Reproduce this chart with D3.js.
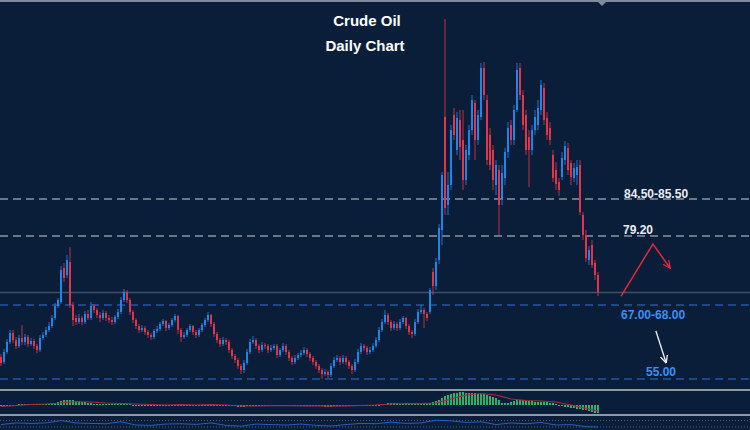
<!DOCTYPE html>
<html>
<head>
<meta charset="utf-8">
<script src="https://cdn.jsdelivr.net/npm/d3@7/dist/d3.min.js"></script>
<style>
  html, body { margin: 0; padding: 0; background: #0a1e3a; }
  svg { display: block; }
  text { font-family: "Liberation Sans", Arial, sans-serif; font-weight: bold; }
</style>
</head>
<body>
<div id="chart"></div>
<script>
// daily candles, oldest first (price)
var opens = [
  58.7,57.8,59.5,61.2,62.7,61.5,60.5,61.8,61.2,62.0,
  60.8,61.3,60.5,59.8,61.8,62.3,63.2,63.8,65.2,67.2,
  67.8,73.5,72.3,74.5,67.3,65.2,64.5,65.2,64.5,65.8,
  65.2,67.2,66.5,65.7,65.2,66.0,65.2,64.8,64.5,65.3,
  66.2,68.2,69.5,68.2,66.2,64.8,63.8,63.2,63.5,62.8,
  62.3,62.0,63.0,63.3,64.2,64.7,63.5,64.0,64.8,65.5,
  63.2,62.0,62.3,63.2,63.8,62.8,62.3,63.2,64.0,64.8,
  65.7,64.2,62.5,61.5,60.8,61.5,61.2,59.8,58.8,58.2,
  57.2,56.5,57.7,59.5,61.2,61.5,60.5,59.8,60.7,60.5,
  59.8,60.2,60.5,59.0,59.8,60.5,59.5,58.5,57.8,58.5,
  59.0,59.3,59.8,59.2,58.5,57.8,57.2,56.5,55.8,56.2,
  55.7,57.2,58.2,58.5,57.8,58.5,57.8,57.2,56.5,57.8,
  59.5,60.5,60.2,59.5,59.8,60.5,61.5,63.2,64.5,65.7,
  64.5,63.5,64.2,63.5,64.5,65.2,63.8,62.8,62.5,64.5,
  66.2,66.5,65.8,66.2,72.8,70.5,74.8,79.8,98.7,84.0,
  87.3,99.0,93.2,98.2,94.8,88.2,92.3,96.5,101.0,94.8,
  98.7,106.8,101.5,95.7,93.2,87.3,89.8,84.8,88.5,92.8,
  97.3,94.8,99.8,106.8,102.3,99.0,95.3,93.2,96.5,97.3,
  99.8,103.5,98.5,96.8,92.3,89.8,87.8,88.7,91.5,93.5,
  91.0,88.5,89.0,90.7,82.3,79.0,74.8,77.3,74.3,72.3
];
var highs = [
  59.2,60.0,61.7,63.2,63.2,62.0,62.3,64.0,62.5,62.3,
  61.8,61.7,60.8,62.3,62.8,63.7,64.5,65.7,67.7,68.5,
  73.8,74.3,75.7,77.0,67.8,65.7,65.8,65.5,66.3,66.5,
  67.8,67.5,66.8,66.2,66.5,66.3,65.7,65.3,65.7,66.7,
  68.7,70.0,69.8,68.5,66.5,65.2,64.2,64.0,63.8,63.2,
  62.7,63.3,63.8,64.5,65.0,64.8,64.3,65.2,65.8,65.7,
  63.5,62.8,63.5,64.2,64.0,63.2,63.5,64.3,65.2,66.2,
  65.8,64.5,62.8,61.8,62.0,61.8,61.5,60.2,59.2,58.5,
  57.5,58.2,60.0,61.7,62.2,61.8,60.8,61.2,61.0,60.8,
  60.7,60.8,60.8,60.2,61.0,60.8,59.8,58.8,59.0,59.3,
  59.8,60.3,60.2,59.5,58.8,58.2,57.5,56.8,56.7,56.5,
  57.7,58.7,59.0,58.8,59.0,58.8,58.2,57.5,58.3,60.0,
  61.0,60.8,60.5,60.3,61.0,62.0,63.7,65.0,66.5,66.0,
  64.8,64.7,64.5,65.0,65.5,65.3,64.2,63.2,65.0,66.7,
  67.3,66.8,66.2,70.2,73.5,75.2,80.8,89.5,115.0,89.5,
  97.3,100.2,99.5,99.8,99.8,94.0,97.3,102.3,101.5,99.8,
  107.7,107.8,102.3,96.8,94.0,91.5,90.7,90.7,93.5,97.8,
  98.2,100.7,107.7,107.7,103.2,99.8,96.5,97.3,99.8,101.5,
  104.8,104.3,99.5,97.8,93.2,91.2,88.5,92.8,94.7,94.3,
  91.5,91.0,91.5,91.5,82.8,79.8,77.2,78.2,74.8,72.8
];
var lows = [
  57.2,57.5,59.2,60.8,61.0,60.0,60.2,60.7,60.7,60.3,
  60.5,60.0,59.3,59.5,61.5,62.0,62.8,63.5,64.8,66.8,
  67.5,71.2,71.8,66.8,63.8,64.0,64.2,64.0,64.2,64.8,
  64.8,66.0,65.2,64.5,64.8,64.7,64.3,64.0,64.2,65.0,
  65.8,67.8,67.7,65.7,64.3,63.3,62.7,62.8,62.3,61.8,
  61.5,61.7,62.7,63.0,63.8,63.0,63.2,63.7,64.5,62.5,
  61.2,61.7,62.0,62.8,62.3,61.8,62.0,62.8,63.7,64.5,
  63.7,62.0,61.0,60.3,60.5,60.7,59.3,58.3,57.7,56.7,
  55.8,56.0,57.3,59.2,60.8,60.0,59.3,59.5,60.0,59.3,
  59.5,59.8,58.5,58.7,59.5,59.0,58.0,57.3,57.5,58.2,
  58.7,59.0,58.7,58.0,57.3,56.7,56.0,55.0,55.5,55.2,
  55.3,56.8,57.8,57.3,57.5,57.3,56.7,55.8,56.2,57.5,
  59.2,59.7,59.0,59.2,59.5,60.2,61.2,62.8,64.2,64.0,
  63.0,63.2,63.0,63.2,64.2,63.3,62.3,61.8,62.2,64.2,
  65.8,63.5,64.7,65.8,69.0,69.8,74.2,77.3,82.3,82.3,
  86.5,94.8,92.3,91.5,86.5,87.3,91.5,95.7,91.5,94.0,
  98.2,101.5,90.7,89.8,86.5,85.7,79.0,84.0,87.3,91.8,
  94.0,94.0,99.5,101.5,96.5,92.3,87.0,92.3,95.7,96.5,
  99.0,97.3,94.8,94.0,87.8,86.5,85.5,88.2,90.7,89.0,
  87.3,87.8,87.3,82.3,78.2,74.5,74.0,73.5,71.5,68.8
];
var closes = [
  57.7,59.5,61.2,62.7,61.5,60.5,61.8,61.2,62.0,60.8,
  61.3,60.5,59.8,61.8,62.3,63.2,63.8,65.2,67.2,68.2,
  73.2,71.8,74.8,67.3,64.8,64.5,65.2,64.5,65.8,65.2,
  67.2,66.5,65.7,65.2,66.0,65.2,64.8,64.5,65.3,66.2,
  68.2,69.5,68.2,66.2,64.8,63.8,63.2,63.5,62.8,62.3,
  62.0,63.0,63.3,64.2,64.7,63.5,64.0,64.8,65.5,63.2,
  62.0,62.3,63.2,63.8,62.8,62.3,63.2,64.0,64.8,65.7,
  64.2,62.5,61.5,60.8,61.5,61.2,59.8,58.8,58.2,57.2,
  56.5,57.7,59.5,61.2,61.5,60.5,59.8,60.7,60.5,59.8,
  60.2,60.5,59.0,59.8,60.5,59.5,58.5,57.8,58.5,59.0,
  59.3,59.8,59.2,58.5,57.8,57.2,56.5,55.8,56.2,55.7,
  57.2,58.2,58.5,57.8,58.5,57.8,57.2,56.5,57.8,59.5,
  60.5,60.2,59.5,59.8,60.5,61.5,63.2,64.5,65.7,64.5,
  63.5,64.2,63.5,64.5,65.2,63.8,62.8,62.5,64.5,66.2,
  66.5,65.8,65.2,69.8,70.5,74.5,80.2,89.0,83.5,87.3,
  96.5,95.7,98.5,93.7,88.2,93.2,96.5,101.5,94.8,99.0,
  106.8,102.3,91.5,90.7,88.2,90.7,84.0,89.3,92.8,96.8,
  94.8,99.8,106.5,102.3,97.3,93.2,93.2,96.5,98.7,100.2,
  104.0,98.2,95.7,94.8,88.5,87.5,86.5,91.8,93.8,89.8,
  88.7,90.2,90.3,82.8,79.0,75.2,76.5,74.0,72.3,69.5
];

// MACD main (histogram), one per candle
var macd = [
  -1,-1,-0.5,0,0.5,0.5,1,1,1,1,
  1,1,1,1,1.5,1.5,1.5,2,2.5,3,
  4,5,5.5,5.5,5,4.5,4,3.5,3,2.5,
  2,1.5,1.5,1,1,1,1,1,1,1.5,
  1.5,1.5,1,1,0.5,0.5,0,0,-0.5,-0.5,
  -0.5,-0.5,0,0,0,0.5,0.5,0.5,0.5,0.5,
  0,0,0,0,0,0,0,0.5,0.5,0.5,
  0.5,0.5,0,0,-0.5,-0.5,-0.5,-1,-1,-1.5,
  -1.5,-1.5,-1,-1,-0.5,-0.5,-0.5,-0.5,-0.5,-0.5,
  -0.5,-0.5,-0.5,-0.5,-0.5,-0.5,-0.5,-1,-1,-1,
  -0.5,-0.5,-0.5,-0.5,-1,-1,-1,-1,-1.5,-1.5,
  -1.5,-1,-1,-0.5,-0.5,-0.5,-0.5,-0.5,-0.5,-0.5,
  0,0,0,0,0,0,0.5,1,1.5,2,
  2,2,2,1.5,1.5,1.5,1.5,1,1,1,
  1,1.5,1.5,2,3,4,5,7,9,10,
  11,12,12.5,13,13,12.5,12,12,12,11.5,
  11,11,10.5,9.5,8.5,7,5,2.5,2,2.5,
  3.5,4.5,5,5.5,5,4.5,4,4,3.5,3.5,
  3.5,3.5,3,2.5,2,1,0,-1,-1.5,-2,
  -2.5,-3,-3.5,-4,-4.5,-5,-5.5,-6.5,-7.5,-8
];

// signal line and RSI, read every 5th candle
var sampleAt = [0,5,10,15,20,25,30,35,40,45,50,55,60,65,70,75,80,85,90,95,
  100,105,110,115,120,125,130,135,140,145,150,155,160,165,170,175,180,185,190,195,199];
var signal = [-1.5,-0.5,0.5,1,2,3.5,3,2,1.5,1,0.5,0,0.3,0,0.3,0,-1,-1,-0.7,-0.5,
  -0.8,-0.8,-1.2,-0.8,-0.5,0,1,1.5,1.3,2,6,10,11.5,10,6,4.5,4,3,0,-3.5,-6];
var rsi = [45,55,52,55,70,55,52,50,62,42,40,48,50,46,55,40,35,48,45,42,
  48,40,36,45,52,50,60,52,55,72,68,58,62,45,55,50,58,42,45,32,30];

// support / resistance levels
var levelLabels = ["84.50-85.50", "79.20", "67.00-68.00", "55.00"];
var levelValues = [85.0, 78.85, 67.35, 55.0];
var lastPrice = 69.4;

// projected moves: [candle index, price]
var upMove = [[206.7, 68.8], [217.3, 77.5], [223, 73.5]];
var downMove = [[218.3, 63.0], [221.7, 57.7]];

window.onload = function() {

  var width = 750, height = 430;
  var upColor = "#1f86e6", downColor = "#e3344b";

  var svg = d3.select("#chart")
      .append("svg")
      .attr("width", width)
      .attr("height", height);

  svg.append("rect").attr("width", width).attr("height", height).attr("fill", "#0a1e3a");

  // scales
  var x = d3.scaleLinear().domain([0, 199]).range([1, 598]);
  var y = d3.scaleLinear().domain([55, 85]).range([379, 199]);
  var ym = d3.scaleLinear().domain([-10, 14]).range([415, 391]);
  var yr = d3.scaleLinear().domain([30, 70]).range([427, 420.5]);

  // top border with shift marker
  svg.append("rect").attr("x", 0).attr("y", 0).attr("width", width).attr("height", 2).attr("fill", "#7f8c9d");
  svg.append("path").attr("d", "M598,2 L606,2 L602,6 Z").attr("fill", "#7f8c9d");

  // current price line
  svg.append("line")
      .attr("x1", 0).attr("x2", width)
      .attr("y1", y(lastPrice)).attr("y2", y(lastPrice))
      .attr("stroke", "#3e4f66").attr("stroke-width", 1.5);

  // level lines
  svg.selectAll(".level").data(levelValues).join("line")
      .attr("class", "level")
      .attr("x1", 0).attr("x2", width)
      .attr("y1", function(d) { return y(d); })
      .attr("y2", function(d) { return y(d); })
      .attr("stroke", function(d, i) { return i < 2 ? "#8a95a4" : "#2457a3"; })
      .attr("stroke-width", 1.5)
      .attr("stroke-dasharray", "8,5");

  // candles
  var idx = d3.range(closes.length);
  var candles = svg.append("g").attr("shape-rendering", "crispEdges");
  function col(i) { return closes[i] >= opens[i] ? upColor : downColor; }

  candles.selectAll(".wick").data(idx).join("rect")
      .attr("class", "wick")
      .attr("x", function(i) { return x(i) - 1; })
      .attr("width", 2)
      .attr("y", function(i) { return y(highs[i]); })
      .attr("height", function(i) { return Math.max(1, y(lows[i]) - y(highs[i])); })
      .attr("fill", col)
      .attr("opacity", 0.42);

  candles.selectAll(".body").data(idx).join("rect")
      .attr("class", "body")
      .attr("x", function(i) { return x(i) - 1; })
      .attr("width", 2)
      .attr("y", function(i) { return y(Math.max(opens[i], closes[i])); })
      .attr("height", function(i) { return Math.max(1, Math.abs(y(opens[i]) - y(closes[i]))); })
      .attr("fill", col);

  // level labels
  var labelX = [624, 623, 621, 646];
  var labelDy = [-1.5, -2, 14, -3];
  svg.selectAll(".lvl-label").data(levelLabels).join("text")
      .attr("class", "lvl-label")
      .attr("x", function(d, i) { return labelX[i]; })
      .attr("y", function(d, i) { return y(levelValues[i]) + labelDy[i]; })
      .attr("font-size", "12px")
      .attr("fill", function(d, i) { return i < 2 ? "#e9edf3" : "#3a90f2"; })
      .text(function(d) { return d; });

  // arrow markers
  var defs = svg.append("defs");
  [["arrRed", "#e3283f"], ["arrWhite", "#f2f4f7"]].forEach(function(m) {
    defs.append("marker")
        .attr("id", m[0])
        .attr("viewBox", "0 0 10 10")
        .attr("refX", 9).attr("refY", 5)
        .attr("markerWidth", 8).attr("markerHeight", 8)
        .attr("markerUnits", "userSpaceOnUse")
        .attr("orient", "auto")
        .append("path")
        .attr("d", "M0,0.5 L9.5,5 L0,9.5")
        .attr("fill", "none")
        .attr("stroke", m[1])
        .attr("stroke-width", 1.6);
  });

  var moveLine = d3.line()
      .x(function(d) { return x(d[0]); })
      .y(function(d) { return y(d[1]); });

  svg.append("path").attr("d", moveLine(upMove))
      .attr("fill", "none").attr("stroke", "#e3283f").attr("stroke-width", 1.5)
      .attr("marker-end", "url(#arrRed)");
  svg.append("path").attr("d", moveLine(downMove))
      .attr("fill", "none").attr("stroke", "#f2f4f7").attr("stroke-width", 1.3)
      .attr("marker-end", "url(#arrWhite)");

  // title
  svg.append("text").attr("x", 367).attr("y", 26).attr("text-anchor", "middle")
      .attr("font-size", "15px").attr("fill", "#ffffff").text("Crude Oil");
  svg.append("text").attr("x", 365).attr("y", 51).attr("text-anchor", "middle")
      .attr("font-size", "15px").attr("fill", "#ffffff").text("Daily Chart");

  // MACD panel
  svg.append("g").attr("shape-rendering", "crispEdges")
    .selectAll("rect").data(idx).join("rect")
      .attr("x", function(i) { return x(i) - 1; })
      .attr("width", 2)
      .attr("y", function(i) { return ym(Math.max(0, macd[i])); })
      .attr("height", function(i) { return Math.max(1, Math.abs(ym(macd[i]) - ym(0))); })
      .attr("fill", "#2bb36c");

  var sigLine = d3.line()
      .x(function(d, k) { return x(sampleAt[k]); })
      .y(function(d) { return ym(d); });
  svg.append("path").attr("d", sigLine(signal))
      .attr("fill", "none").attr("stroke", "#a62a43").attr("stroke-width", 1.2);

  // RSI panel
  [70, 30].forEach(function(v) {
    svg.append("line").attr("x1", 0).attr("x2", width)
        .attr("y1", yr(v)).attr("y2", yr(v))
        .attr("stroke", "#4b5b72").attr("stroke-width", 1)
        .attr("stroke-dasharray", "1,2");
  });
  var rsiLine = d3.line()
      .x(function(d, k) { return x(sampleAt[k]); })
      .y(function(d) { return yr(d); });
  svg.append("path").attr("d", rsiLine(rsi))
      .attr("fill", "none").attr("stroke", "#2a5cb8").attr("stroke-width", 1);

  // panel separators
  [390, 415].forEach(function(sy) {
    svg.append("rect").attr("x", 0).attr("y", sy - 1).attr("width", width).attr("height", 2)
        .attr("fill", "#8e99a8");
  });
};
</script>
</body>
</html>
